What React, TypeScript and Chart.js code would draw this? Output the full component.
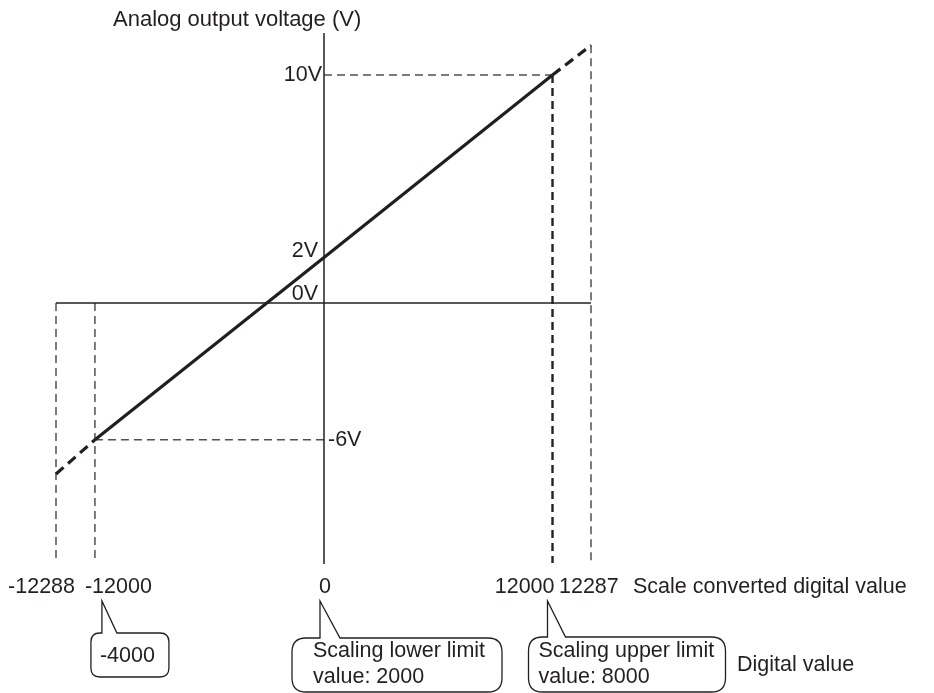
import React, { useEffect, useRef } from 'react';
import { Chart, registerables, LinearScale } from 'chart.js';

// ---- data ----
const X_TICKS = [-12288, -12000, 0, 12000, 12287];
const X_TICK_LABELS = ['-12288', '-12000', '0', '12000', '12287'];
const LINE_X = [-12288, -12000, 0, 12000, 12287];
const LINE_V = [-7.5, -6, 2, 10, 11.3];
const Y_LABEL_VALUES = [10, 2, 0, -6];
const Y_LABELS = ['10V', '2V', '0V', '-6V'];
const V_AXIS_EXTENT = [-11.45, 11.84];
const H_AXIS_EXTENT = [-12288, 12287];
const GUIDE_BOTTOM = -11.4;
const CALLOUT_ANCHORS = [-12000, 0, 12000];
const CALLOUT_TEXTS = [['-4000'], ['Scaling lower limit', 'value: 2000'], ['Scaling upper limit', 'value: 8000']];
const Y_TITLE = 'Analog output voltage (V)';
const X_TITLE = 'Scale converted digital value';
const X_TITLE2 = 'Digital value';

// schematic (broken) x axis: where each break value is drawn, in axis units
const BREAK_VALUES = [-12288, -12000, 0, 12000, 12287];
const BREAK_POSITIONS = [-14074, -12030, 0, 12000, 14022];

const INK = '#231f20';
const FONT = "'Liberation Sans', Arial, sans-serif";

function warp(v: number) {
  const n = BREAK_VALUES.length;
  if (v <= BREAK_VALUES[0]) return BREAK_POSITIONS[0] + (v - BREAK_VALUES[0]);
  if (v >= BREAK_VALUES[n - 1]) return BREAK_POSITIONS[n - 1] + (v - BREAK_VALUES[n - 1]);
  for (let i = 0; i < n - 1; i++) {
    const a = BREAK_VALUES[i], b = BREAK_VALUES[i + 1];
    if (v >= a && v <= b) {
      const t = (v - a) / (b - a);
      return BREAK_POSITIONS[i] + t * (BREAK_POSITIONS[i + 1] - BREAK_POSITIONS[i]);
    }
  }
  return v;
}
function unwarp(p: number) {
  const n = BREAK_POSITIONS.length;
  if (p <= BREAK_POSITIONS[0]) return BREAK_VALUES[0] + (p - BREAK_POSITIONS[0]);
  if (p >= BREAK_POSITIONS[n - 1]) return BREAK_VALUES[n - 1] + (p - BREAK_POSITIONS[n - 1]);
  for (let i = 0; i < n - 1; i++) {
    const a = BREAK_POSITIONS[i], b = BREAK_POSITIONS[i + 1];
    if (p >= a && p <= b) {
      const t = (p - a) / (b - a);
      return BREAK_VALUES[i] + t * (BREAK_VALUES[i + 1] - BREAK_VALUES[i]);
    }
  }
  return p;
}

class BrokenLinearScale extends LinearScale {
  static id = 'brokenLinear';
  static defaults = {};
  getPixelForValue(value: any) {
    if (value === null || value === undefined) return NaN;
    return super.getPixelForValue(warp(value));
  }
  getValueForPixel(px: number) {
    return unwarp(super.getValueForPixel(px) as number);
  }
}

Chart.register(...registerables, BrokenLinearScale);

function drawCallout(ctx: CanvasRenderingContext2D, x0: number, x1: number, y0: number, y1: number, r: number,
  baseL: number, baseR: number, tipY: number) {
  ctx.beginPath();
  ctx.moveTo(x0 + r, y0);
  ctx.lineTo(baseL, y0);
  ctx.lineTo(baseL, tipY);
  ctx.lineTo(baseR, y0);
  ctx.lineTo(x1 - r, y0);
  ctx.quadraticCurveTo(x1, y0, x1, y0 + r);
  ctx.lineTo(x1, y1 - r);
  ctx.quadraticCurveTo(x1, y1, x1 - r, y1);
  ctx.lineTo(x0 + r, y1);
  ctx.quadraticCurveTo(x0, y1, x0, y1 - r);
  ctx.lineTo(x0, y0 + r);
  ctx.quadraticCurveTo(x0, y0, x0 + r, y0);
  ctx.closePath();
  ctx.fillStyle = '#ffffff';
  ctx.fill();
  ctx.strokeStyle = INK;
  ctx.lineWidth = 1.3;
  ctx.stroke();
}

const textPlugin = {
  id: 'diagramText',
  afterDatasetsDraw(chart: any) {
    const ctx: CanvasRenderingContext2D = chart.ctx;
    const xs = chart.scales.x;
    const ys = chart.scales.y;
    ctx.save();
    ctx.fillStyle = INK;
    const F = `21.5px ${FONT}`;

    // y axis title
    ctx.textAlign = 'left';
    ctx.textBaseline = 'middle';
    ctx.font = `22px ${FONT}`;
    ctx.fillText(Y_TITLE, 113, 20);
    ctx.font = F;

    // y labels
    const x0 = xs.getPixelForValue(0);
    Y_LABEL_VALUES.forEach((v, i) => {
      const py = ys.getPixelForValue(v);
      if (v === 10) {
        ctx.textAlign = 'right'; ctx.textBaseline = 'middle';
        ctx.fillText(Y_LABELS[i], x0 - 2, py);
      } else if (v === -6) {
        ctx.textAlign = 'left'; ctx.textBaseline = 'middle';
        ctx.fillText(Y_LABELS[i], x0 + 4, py);
      } else if (v === 0) {
        ctx.textAlign = 'right'; ctx.textBaseline = 'alphabetic';
        ctx.fillText(Y_LABELS[i], x0 - 6, py - 3);
      } else {
        ctx.textAlign = 'right'; ctx.textBaseline = 'alphabetic';
        ctx.fillText(Y_LABELS[i], x0 - 6, py);
      }
    });

    // x tick labels
    const tickY = 587;
    ctx.textBaseline = 'middle';
    X_TICKS.forEach((v, i) => {
      const px = xs.getPixelForValue(v);
      if (i === 0) { ctx.textAlign = 'right'; ctx.fillText(X_TICK_LABELS[i], px + 19, tickY); }
      else if (i === 1) { ctx.textAlign = 'left'; ctx.fillText(X_TICK_LABELS[i], px - 10, tickY); }
      else if (i === 2) { ctx.textAlign = 'center'; ctx.fillText(X_TICK_LABELS[i], px + 1, tickY); }
      else if (i === 3) { ctx.textAlign = 'right'; ctx.fillText(X_TICK_LABELS[i], px + 2, tickY); }
      else { ctx.textAlign = 'left'; ctx.fillText(X_TICK_LABELS[i], px - 32, tickY); }
    });
    ctx.textAlign = 'left';
    ctx.fillText(X_TITLE, 633, tickY);
    ctx.fillText(X_TITLE2, 737, 665);

    // callouts
    const boxes = [
      { tip: 7, left: -4, right: 74, top: 633, bottom: 677, r: 9, base: 15, textX: 9 },
      { tip: -4, left: -32, right: 178, top: 638, bottom: 692, r: 14, base: 20, textX: 21 },
      { tip: -5, left: -24, right: 173, top: 637, bottom: 692, r: 14, base: 18, textX: 10 },
    ];
    CALLOUT_ANCHORS.forEach((v, i) => {
      const px = xs.getPixelForValue(v);
      const b = boxes[i];
      const tx = px + b.tip;
      drawCallout(ctx, px + b.left, px + b.right, b.top, b.bottom, b.r, tx, tx + b.base, 601);
      ctx.fillStyle = INK;
      ctx.font = F;
      const lines = CALLOUT_TEXTS[i];
      if (lines.length === 1) {
        ctx.textAlign = 'left'; ctx.textBaseline = 'middle';
        ctx.fillText(lines[0], px + b.left + b.textX, (b.top + b.bottom) / 2 + 1);
      } else {
        ctx.textAlign = 'left'; ctx.textBaseline = 'alphabetic';
        lines.forEach((ln, k) => ctx.fillText(ln, px + b.left + b.textX, 657 + k * 26));
      }
    });
    ctx.restore();
  },
};

export default function App() {
  const ref = useRef<HTMLCanvasElement | null>(null);
  useEffect(() => {
    if (!ref.current) return;
    const pts = (xs: number[], vs: number[]) => xs.map((x, i) => ({ x, y: vs[i] }));
    const lastIdx = LINE_X.length - 1;
    const guide = (data: any[], color = '#505050', width = 1.5) => ({
      data, borderColor: color, borderWidth: width, borderDash: [8, 5], showLine: true,
      pointRadius: 0, fill: false, order: 5, borderCapStyle: 'butt',
    });
    const chart = new Chart(ref.current, {
      type: 'scatter',
      data: {
        datasets: [
          {
            data: pts(LINE_X, LINE_V), borderColor: INK, borderWidth: 3.2, showLine: true, pointRadius: 0,
            order: 0, borderCapStyle: 'butt',
            segment: {
              borderDash: (c: any) => (c.p0DataIndex === 0 || c.p1DataIndex === lastIdx ? [10, 6] : undefined),
            },
          },
          {
            data: [{ x: H_AXIS_EXTENT[0], y: 0 }, { x: H_AXIS_EXTENT[1], y: 0 }],
            borderColor: INK, borderWidth: 1.5, showLine: true, pointRadius: 0, order: 2,
          },
          {
            data: [{ x: 0, y: V_AXIS_EXTENT[0] }, { x: 0, y: V_AXIS_EXTENT[1] }],
            borderColor: INK, borderWidth: 1.5, showLine: true, pointRadius: 0, order: 2,
          },
          guide([{ x: X_TICKS[0], y: 0 }, { x: X_TICKS[0], y: GUIDE_BOTTOM }]),
          guide([{ x: X_TICKS[1], y: 0 }, { x: X_TICKS[1], y: GUIDE_BOTTOM }]),
          guide([{ x: X_TICKS[3], y: LINE_V[3] }, { x: X_TICKS[3], y: GUIDE_BOTTOM }], '#222222', 2.4),
          guide([{ x: X_TICKS[4], y: LINE_V[4] }, { x: X_TICKS[4], y: GUIDE_BOTTOM }]),
          guide([{ x: 0, y: LINE_V[3] }, { x: X_TICKS[3], y: LINE_V[3] }]),
          guide([{ x: X_TICKS[1], y: LINE_V[1] }, { x: 0, y: LINE_V[1] }]),
        ],
      },
      options: {
        animation: false,
        responsive: false,
        devicePixelRatio: 1,
        events: [],
        layout: { padding: 0 },
        plugins: { legend: { display: false }, tooltip: { enabled: false }, title: { display: false } },
        scales: {
          x: { type: 'brokenLinear', display: false, min: -17015, max: 32035 },
          y: { type: 'linear', display: false, min: -17.105, max: 13.289 },
        },
      } as any,
      plugins: [textPlugin],
    });
    return () => chart.destroy();
  }, []);
  return (
    <div style={{ position: 'absolute', left: 0, top: 0, width: 934, height: 693, background: '#fff' }}>
      <canvas ref={ref} width={934} height={693} style={{ display: 'block' }} />
    </div>
  );
}
